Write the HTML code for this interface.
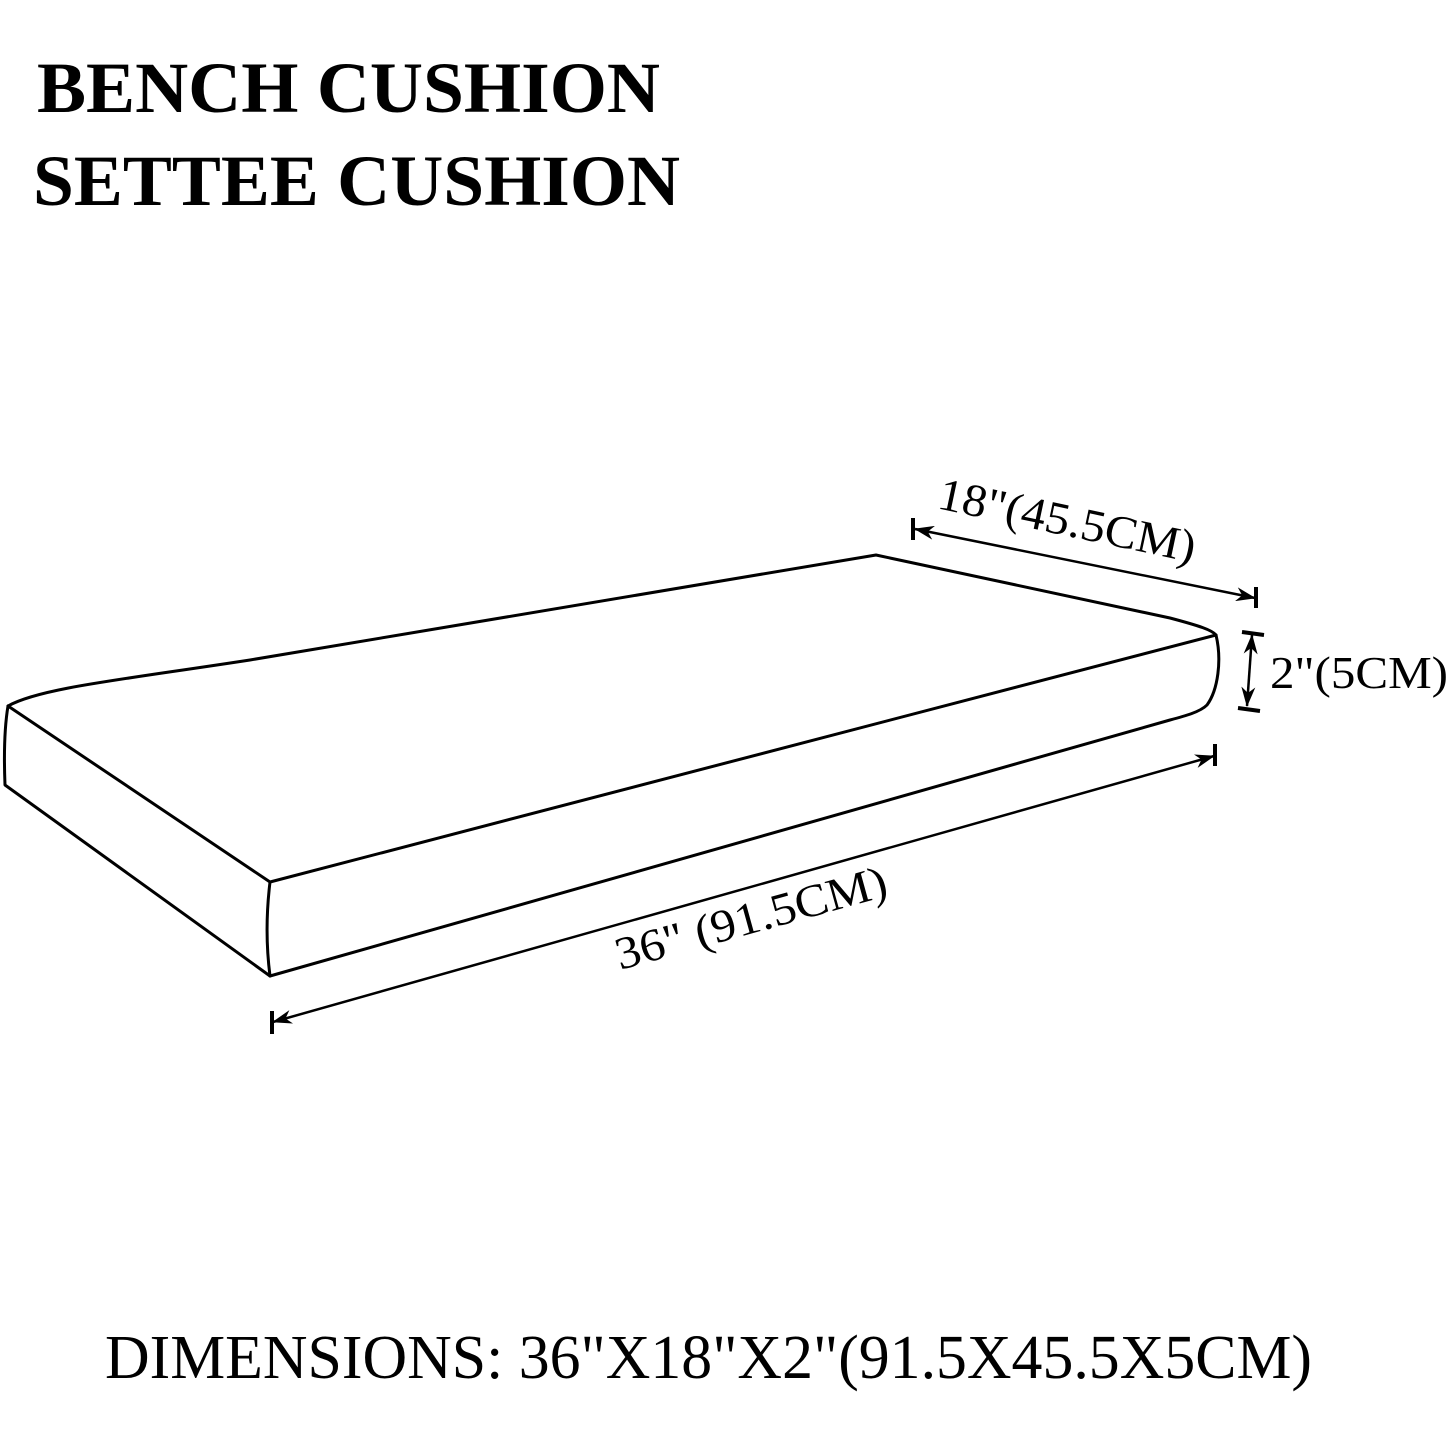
<!DOCTYPE html>
<html><head><style>html,body{margin:0;padding:0;background:#fff}svg{display:block}</style></head>
<body>
<svg width="1450" height="1450" viewBox="0 0 1450 1450" xmlns="http://www.w3.org/2000/svg">
<defs>
<marker id="ah" viewBox="0 0 20 14" refX="19" refY="7" markerWidth="20" markerHeight="14" markerUnits="userSpaceOnUse" orient="auto-start-reverse">
<path d="M0,0 L20,7 L0,14 L6,7 Z" fill="#000"/>
</marker>
</defs>
<g font-family="Liberation Serif, serif" fill="#000">
<text x="37" y="112" font-size="72" font-weight="bold" textLength="623" lengthAdjust="spacingAndGlyphs">BENCH CUSHION</text>
<text x="33" y="205" font-size="72" font-weight="bold" textLength="647" lengthAdjust="spacingAndGlyphs">SETTEE CUSHION</text>
<text x="105" y="1378" font-size="62" textLength="1207" lengthAdjust="spacingAndGlyphs">DIMENSIONS: 36"X18"X2"(91.5X45.5X5CM)</text>
<text transform="translate(620,970) rotate(-15.5)" font-size="46" textLength="280" lengthAdjust="spacingAndGlyphs">36" (91.5CM)</text>
<text transform="translate(936,508) rotate(12)" font-size="46" textLength="262" lengthAdjust="spacingAndGlyphs">18"(45.5CM)</text>
<text x="1270" y="688" font-size="46" textLength="178" lengthAdjust="spacingAndGlyphs">2"(5CM)</text>
</g>
<g fill="none" stroke="#000" stroke-width="3" stroke-linejoin="round" stroke-linecap="round">
<!-- top surface outline -->
<path d="M8,706 C40,688 120,680 250,660 C350,645 500,620 876,555 L1170,618 C1200,626 1212,630 1216,635"/>
<!-- front top edge -->
<path d="M8,706 L270,882 L1216,635"/>
<!-- right end -->
<path d="M1216,635 C1222,660 1218,690 1207,705 C1200,712 1185,716 1170,720 L270,976"/>
<!-- left end -->
<path d="M8,706 C4,730 4,760 5,785 L270,976"/>
<path d="M270,882 C266,915 266,945 270,976"/>
</g>
<g stroke="#000" stroke-width="2.5" fill="none">
<line x1="915" y1="529" x2="1255" y2="598" marker-start="url(#ah)" marker-end="url(#ah)"/>
<line x1="913" y1="518" x2="913" y2="540" stroke-width="4"/>
<line x1="1256" y1="587" x2="1256" y2="608" stroke-width="4"/>
<line x1="1252" y1="635" x2="1247" y2="706" marker-start="url(#ah)" marker-end="url(#ah)"/>
<line x1="1242" y1="632" x2="1264" y2="635" stroke-width="4"/>
<line x1="1238" y1="708" x2="1260" y2="711" stroke-width="4"/>
<line x1="273" y1="1022" x2="1214" y2="756" marker-start="url(#ah)" marker-end="url(#ah)"/>
<line x1="272" y1="1011" x2="272" y2="1034" stroke-width="4"/>
<line x1="1215" y1="744" x2="1215" y2="766" stroke-width="4"/>
</g>
</svg>
</body></html>
